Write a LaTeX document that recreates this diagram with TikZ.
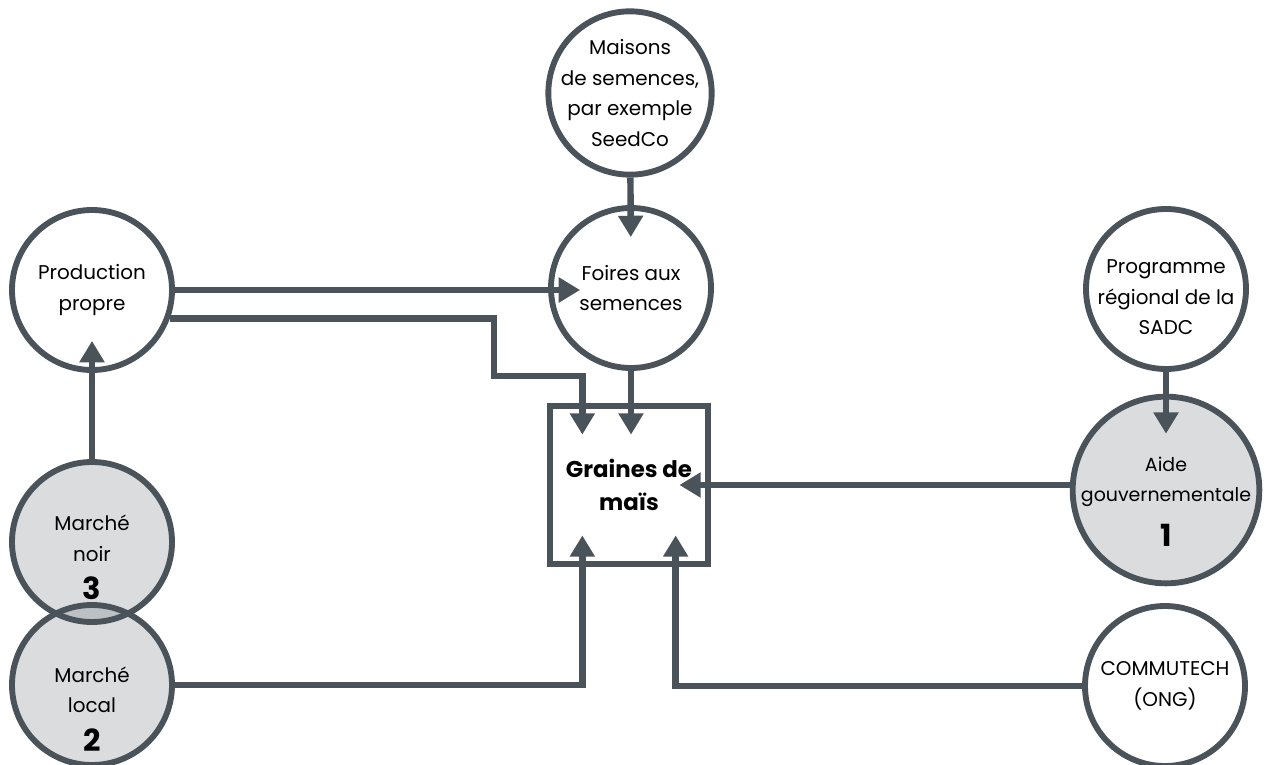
\documentclass[tikz,border=0pt]{standalone}
\usepackage{fontspec}
\setmainfont{Poppins}
\usetikzlibrary{arrows.meta}
\definecolor{ardoise}{HTML}{4A525A}
\newcommand{\chiffre}[1]{{\fontsize{26}{26}\selectfont\bfseries #1}}
\newcommand{\abaisse}[1]{\rule{0pt}{#1}}
\begin{document}
\begin{tikzpicture}[x=0.03cm, y=-0.03cm,
        rond/.style={circle, draw=ardoise, line width=5pt, fill=white, minimum size=4.8cm,
            inner sep=-1cm, align=center, font=\fontsize{17}{26}\selectfont},
        rondgris/.style={rond, fill=ardoise, fill opacity=0.2, text opacity=1},
        boite/.style={rectangle, draw=ardoise, line width=5.5pt, minimum size=4.75cm,
            align=center, font=\fontsize{19.5}{28}\selectfont\bfseries},
        fleche/.style={draw=ardoise, line width=5.5pt, -{Triangle[length=0.64cm, width=0.72cm]},
            shorten >=-0.96cm}]
    \useasboundingbox (0,0) rectangle (1267,765);

    % Sources des semences
    \node[rond, minimum size=4.9cm] (maisons) at (630,93) {Maisons\\de semences,\\par exemple\\SeedCo};
    \node[rond] (foires) at (631,288) {Foires aux\\semences};
    \node[rond] (prod) at (92,290) {Production\\propre};
    \node[rond] (prog) at (1166,289) {\abaisse{26pt}Programme\\régional de la\\SADC};
    \node[rond] (commu) at (1165,686) {COMMUTECH\\(ONG)};

    % Sources classées (1, 2, 3)
    \node[rondgris, minimum size=5.6cm, font=\fontsize{16.2}{26}\selectfont] (aide) at (1166,490)
        {\abaisse{32pt}Aide\\gouvernementale\\[12pt]\chiffre{1}};
    \node[rondgris] (noir) at (92,542) {\abaisse{40pt}Marché\\noir\\[7pt]\chiffre{3}};
    \node[rondgris] (local) at (92,685) {\abaisse{54pt}Marché\\local\\[7pt]\chiffre{2}};

    % Destination
    \node[boite] (graines) at (629,485) {Graines de\\maïs};
    \coordinate (coude) at (494,376);

    % Flux vers les foires et la production propre
    \draw[fleche] (maisons) -- (foires);
    \draw[fleche] (prod.east) -- (prod.east -| foires.west);
    \draw[fleche] (noir) -- (prod);
    \draw[fleche, shorten >=-1.2cm] (prog) -- (prog |- aide.north);

    % Flux vers les graines de maïs
    \draw[fleche] (prod.-20) -| (coude) -| ([xshift=-1.4cm]graines.north);
    \draw[fleche] (foires) -- (foires |- graines.north);
    \draw[fleche] (aide.west |- graines.east) -- (graines.east);
    \draw[fleche] (local.east) -| ([xshift=-1.4cm]graines.south);
    \draw[fleche] (commu.west) -| ([xshift=1.4cm]graines.south);

\end{tikzpicture}
\end{document}
